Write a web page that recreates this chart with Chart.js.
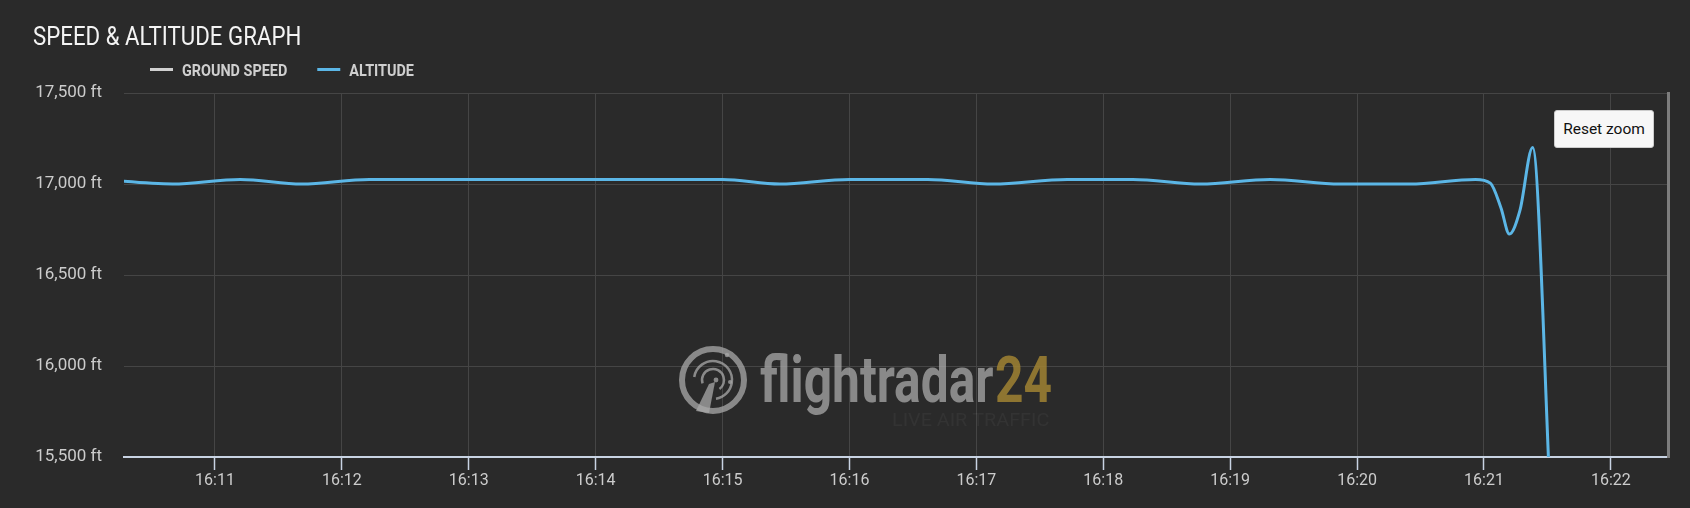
<!DOCTYPE html>
<html>
<head>
<meta charset="utf-8">
<title>Speed & Altitude Graph</title>
<script src="https://cdn.jsdelivr.net/npm/chart.js@4.4.1/dist/chart.umd.min.js"></script>
<style>
  html, body { margin: 0; padding: 0; background: #2a2a2a; }
  #wrap { position: relative; width: 1690px; height: 508px; }
  #resetZoom {
    position: absolute; left: 1554px; top: 110px; width: 100px; height: 38px;
    background: #f7f7f7; border: 1px solid #cccccc; border-radius: 3px;
    font: 15.5px Roboto, sans-serif; color: #111; padding: 0; cursor: pointer;
  }
</style>
</head>
<body>
<div id="wrap">
  <canvas id="altChart" width="1690" height="508"></canvas>
  <button id="resetZoom">Reset zoom</button>
</div>
<script>
// Values (time -> altitude in ft)
const times = ['16:10:05', '16:10:40', '16:11:12', '16:11:41', '16:12:13', '16:12:45', '16:13:20',
               '16:13:55', '16:14:30', '16:15:00', '16:15:27', '16:16:00', '16:16:37', '16:17:08',
               '16:17:43', '16:18:14', '16:18:46', '16:19:19', '16:19:52', '16:20:25', '16:20:56',
               '16:21:03', '16:21:08', '16:21:12', '16:21:17', '16:21:23', '16:21:32', '16:21:40'];
const altitude = [17025, 17000, 17025, 17000, 17025, 17025, 17025,
                  17025, 17025, 17025, 17000, 17025, 17025, 17000,
                  17025, 17025, 17000, 17025, 17000, 17000, 17025,
                  17005, 16870, 16725, 16855, 17200, 15100, 13500];
const groundSpeed = []; // not visible in the zoomed window

const timeTicks = ['16:11', '16:12', '16:13', '16:14', '16:15', '16:16',
                   '16:17', '16:18', '16:19', '16:20', '16:21', '16:22'];
const altTicks = [15500, 16000, 16500, 17000, 17500];
const viewFrom = '16:10:17';
const viewTo = '16:22:27';

const titleText = 'SPEED & ALTITUDE GRAPH';
const seriesNames = ['GROUND SPEED', 'ALTITUDE'];
const seriesColors = ['#d0d0d0', '#5bb6e6'];

function toSec(t) {
    const p = t.split(':').map(Number);
    return p[0] * 3600 + p[1] * 60 + (p[2] || 0);
}
function fmtTime(s) {
    const h = Math.floor(s / 3600), m = Math.floor((s % 3600) / 60);
    return h + ':' + String(m).padStart(2, '0');
}

// title + legend drawn on the canvas, slightly condensed like the original font
const headerPlugin = {
    id: 'header',
    afterDraw(chart) {
        const ctx = chart.ctx;
        ctx.save();
        ctx.textBaseline = 'alphabetic';
        ctx.fillStyle = '#f4f4f4';
        ctx.font = '25px Roboto';
        ctx.save();
        ctx.translate(33, 45);
        ctx.scale(0.89, 1);
        ctx.fillText(titleText, 0, 0);
        ctx.restore();

        // legend
        let x = 150;
        const y = 69.5;
        ctx.font = 'bold 16px Roboto';
        chart.data.datasets.forEach(ds => {
            ctx.strokeStyle = ds.borderColor;
            ctx.lineWidth = 3;
            ctx.beginPath();
            ctx.moveTo(x, y);
            ctx.lineTo(x + 23, y);
            ctx.stroke();
            x += 32;
            const w = ctx.measureText(ds.label).width * 0.9;
            ctx.save();
            ctx.translate(x, y + 6);
            ctx.scale(0.9, 1);
            ctx.fillStyle = '#cfcfcf';
            ctx.fillText(ds.label, 0, 0);
            ctx.restore();
            x += w + 30;
        });
        ctx.restore();
    }
};

// faded flightradar24 watermark behind the line
const watermarkPlugin = {
    id: 'watermark',
    beforeDatasetsDraw(chart) {
        const ctx = chart.ctx;
        const grey = 'rgba(170,170,170,0.75)';
        ctx.save();
        // radar logo
        const cx = 713, cy = 380;
        ctx.strokeStyle = grey;
        ctx.fillStyle = grey;
        ctx.lineWidth = 6;
        ctx.beginPath();
        ctx.arc(cx, cy, 31, 0, Math.PI * 2);
        ctx.stroke();
        ctx.lineWidth = 2.5;
        ctx.beginPath();
        ctx.arc(cx, cy, 19, -Math.PI * 0.95, Math.PI * 0.45);
        ctx.stroke();
        ctx.beginPath();
        ctx.arc(cx, cy, 11, -Math.PI * 1.1, Math.PI * 0.3);
        ctx.stroke();
        [[727, 355, 2.2], [730, 382, 2], [716, 380, 2.4]].forEach(d => {
            ctx.beginPath();
            ctx.arc(d[0], d[1], d[2], 0, Math.PI * 2);
            ctx.fill();
        });
        ctx.beginPath();
        ctx.moveTo(cx + 2, cy + 2);
        ctx.lineTo(cx - 4, cy + 4);
        ctx.lineTo(cx - 17, cy + 31);
        ctx.lineTo(cx - 4, cy + 33);
        ctx.closePath();
        ctx.fill();

        // wordmark
        ctx.textBaseline = 'alphabetic';
        ctx.font = 'bold 65px Roboto';
        ctx.save();
        ctx.translate(760, 402);
        ctx.scale(0.765, 1);
        ctx.fillText('flightradar', 0, 0);
        const w = ctx.measureText('flightradar').width;
        ctx.fillStyle = 'rgba(160,130,50,0.85)';
        ctx.fillText('24', w + 2, 0);
        ctx.restore();

        ctx.font = '18px Roboto';
        ctx.fillStyle = 'rgba(255,255,255,0.045)';
        ctx.save();
        ctx.translate(892, 426);
        ctx.scale(1.1, 1);
        ctx.fillText('LIVE AIR TRAFFIC', 0, 0);
        ctx.restore();
        ctx.restore();
    }
};

const ctx = document.getElementById('altChart').getContext('2d');
const altChart = new Chart(ctx, {
    type: 'line',
    data: {
        datasets: [{
            label: seriesNames[0],
            data: groundSpeed,
            borderColor: seriesColors[0],
            yAxisID: 'y1',
            pointRadius: 0
        }, {
            label: seriesNames[1],
            data: times.map((t, i) => ({ x: toSec(t), y: altitude[i] })),
            borderColor: seriesColors[1],
            borderWidth: 3,
            pointRadius: 0,
            cubicInterpolationMode: 'monotone',
            yAxisID: 'y'
        }]
    },
    options: {
        responsive: false,
        devicePixelRatio: 1,
        animation: false,
        layout: { padding: { top: 93, right: 22, left: 0, bottom: 0 } },
        plugins: {
            legend: { display: false },
            title: { display: false },
            tooltip: { enabled: false }
        },
        scales: {
            x: {
                type: 'linear',
                min: toSec(viewFrom),
                max: toSec(viewTo),
                afterBuildTicks: scale => {
                    scale.ticks = timeTicks.map(t => ({ value: toSec(t) }));
                },
                afterFit: scale => { scale.height = 51; },
                grid: {
                    color: '#454545',
                    tickColor: '#c8d3e3',
                    tickLength: 13,
                    tickWidth: 1.5
                },
                border: { color: '#c8d3e3', width: 2 },
                ticks: {
                    color: '#cccccc',
                    font: { family: 'Roboto', size: 16 },
                    padding: 1,
                    maxRotation: 0,
                    autoSkip: false,
                    callback: v => fmtTime(v)
                }
            },
            y: {
                position: 'left',
                min: 15500,
                max: 17500,
                afterBuildTicks: scale => {
                    scale.ticks = altTicks.map(v => ({ value: v }));
                },
                afterFit: scale => { scale.width = 124; },
                grid: { color: '#454545', drawTicks: false },
                border: { display: false },
                ticks: {
                    color: '#cccccc',
                    font: { family: 'Roboto', size: 17 },
                    padding: 22,
                    callback: v => v.toLocaleString('en-US') + ' ft'
                }
            },
            y1: {
                position: 'right',
                min: 0,
                max: 600,
                afterFit: scale => { scale.width = 0; },
                grid: { drawOnChartArea: false, drawTicks: false },
                border: { color: '#7d7d7d', width: 3 },
                ticks: { display: false }
            }
        }
    },
    plugins: [watermarkPlugin, headerPlugin]
});
</script>
</body>
</html>
